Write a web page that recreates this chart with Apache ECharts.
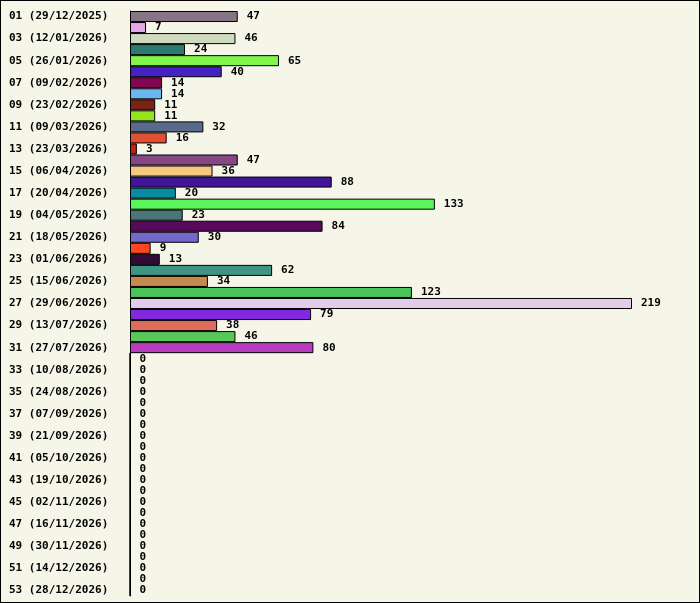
<!DOCTYPE html><html><head><meta charset="utf-8">
<script src="https://cdn.jsdelivr.net/npm/echarts@6/dist/echarts.min.js"></script>
<style>html,body{margin:0;padding:0;background:#f5f5e8}#c{width:698px;height:601px;border:1px solid #000}</style></head><body><div id="c"></div>
<script>
const dates=["29/12/2025","05/01/2026","12/01/2026","19/01/2026","26/01/2026","02/02/2026","09/02/2026","16/02/2026","23/02/2026","02/03/2026","09/03/2026","16/03/2026","23/03/2026","30/03/2026","06/04/2026","13/04/2026","20/04/2026","27/04/2026","04/05/2026","11/05/2026","18/05/2026","25/05/2026","01/06/2026","08/06/2026","15/06/2026","22/06/2026","29/06/2026","06/07/2026","13/07/2026","20/07/2026","27/07/2026","03/08/2026","10/08/2026","17/08/2026","24/08/2026","31/08/2026","07/09/2026","14/09/2026","21/09/2026","28/09/2026","05/10/2026","12/10/2026","19/10/2026","26/10/2026","02/11/2026","09/11/2026","16/11/2026","23/11/2026","30/11/2026","07/12/2026","14/12/2026","21/12/2026","28/12/2026"];
const values=[47,7,46,24,65,40,14,14,11,11,32,16,3,47,36,88,20,133,23,84,30,9,13,62,34,123,219,79,38,46,80,0,0,0,0,0,0,0,0,0,0,0,0,0,0,0,0,0,0,0,0,0,0];
const colors=["#877587","#e3a8e8","#cfdbbf","#2c7a70","#82f54a","#4422c4","#820650","#6bb8f0","#7a2314","#92e41e","#5a6a8a","#e05034","#c82010","#864884","#f5c880","#421498","#0a8ca0","#5af55a","#4a757a","#5a0a5c","#7468cc","#ff4622","#320c38","#409484","#c8884e","#48c45a","#e2ccea","#8428e0","#e06c5a","#58c85a","#b83cc0"];
const cats=dates.map((d,i)=>String(i+1).padStart(2,'0')+' ('+d+')');
const ch=echarts.init(document.getElementById('c'));
const font={fontFamily:'DejaVu Sans Mono',fontWeight:'bold',fontSize:11,color:'#000'};
ch.setOption({animation:false,
grid:{left:129,right:67,top:10,bottom:6,containLabel:false},
xAxis:{type:'value',min:0,max:219,show:false},
yAxis:{type:'category',inverse:true,data:cats,axisTick:{show:false},axisLine:{lineStyle:{color:'#000'}},
 axisLabel:Object.assign({margin:0,align:'left',padding:[0,0,0,0],inside:false,formatter:v=>v},font,{margin:121})},
series:[{type:'bar',barCategoryGap:0,data:values.map((v,i)=>({value:v,itemStyle:{color:colors[i]||'#fff'}})),
 itemStyle:{borderColor:'#000',borderWidth:1},
 label:Object.assign({show:true,position:'right',distance:9},font)}]});
</script></body></html>
